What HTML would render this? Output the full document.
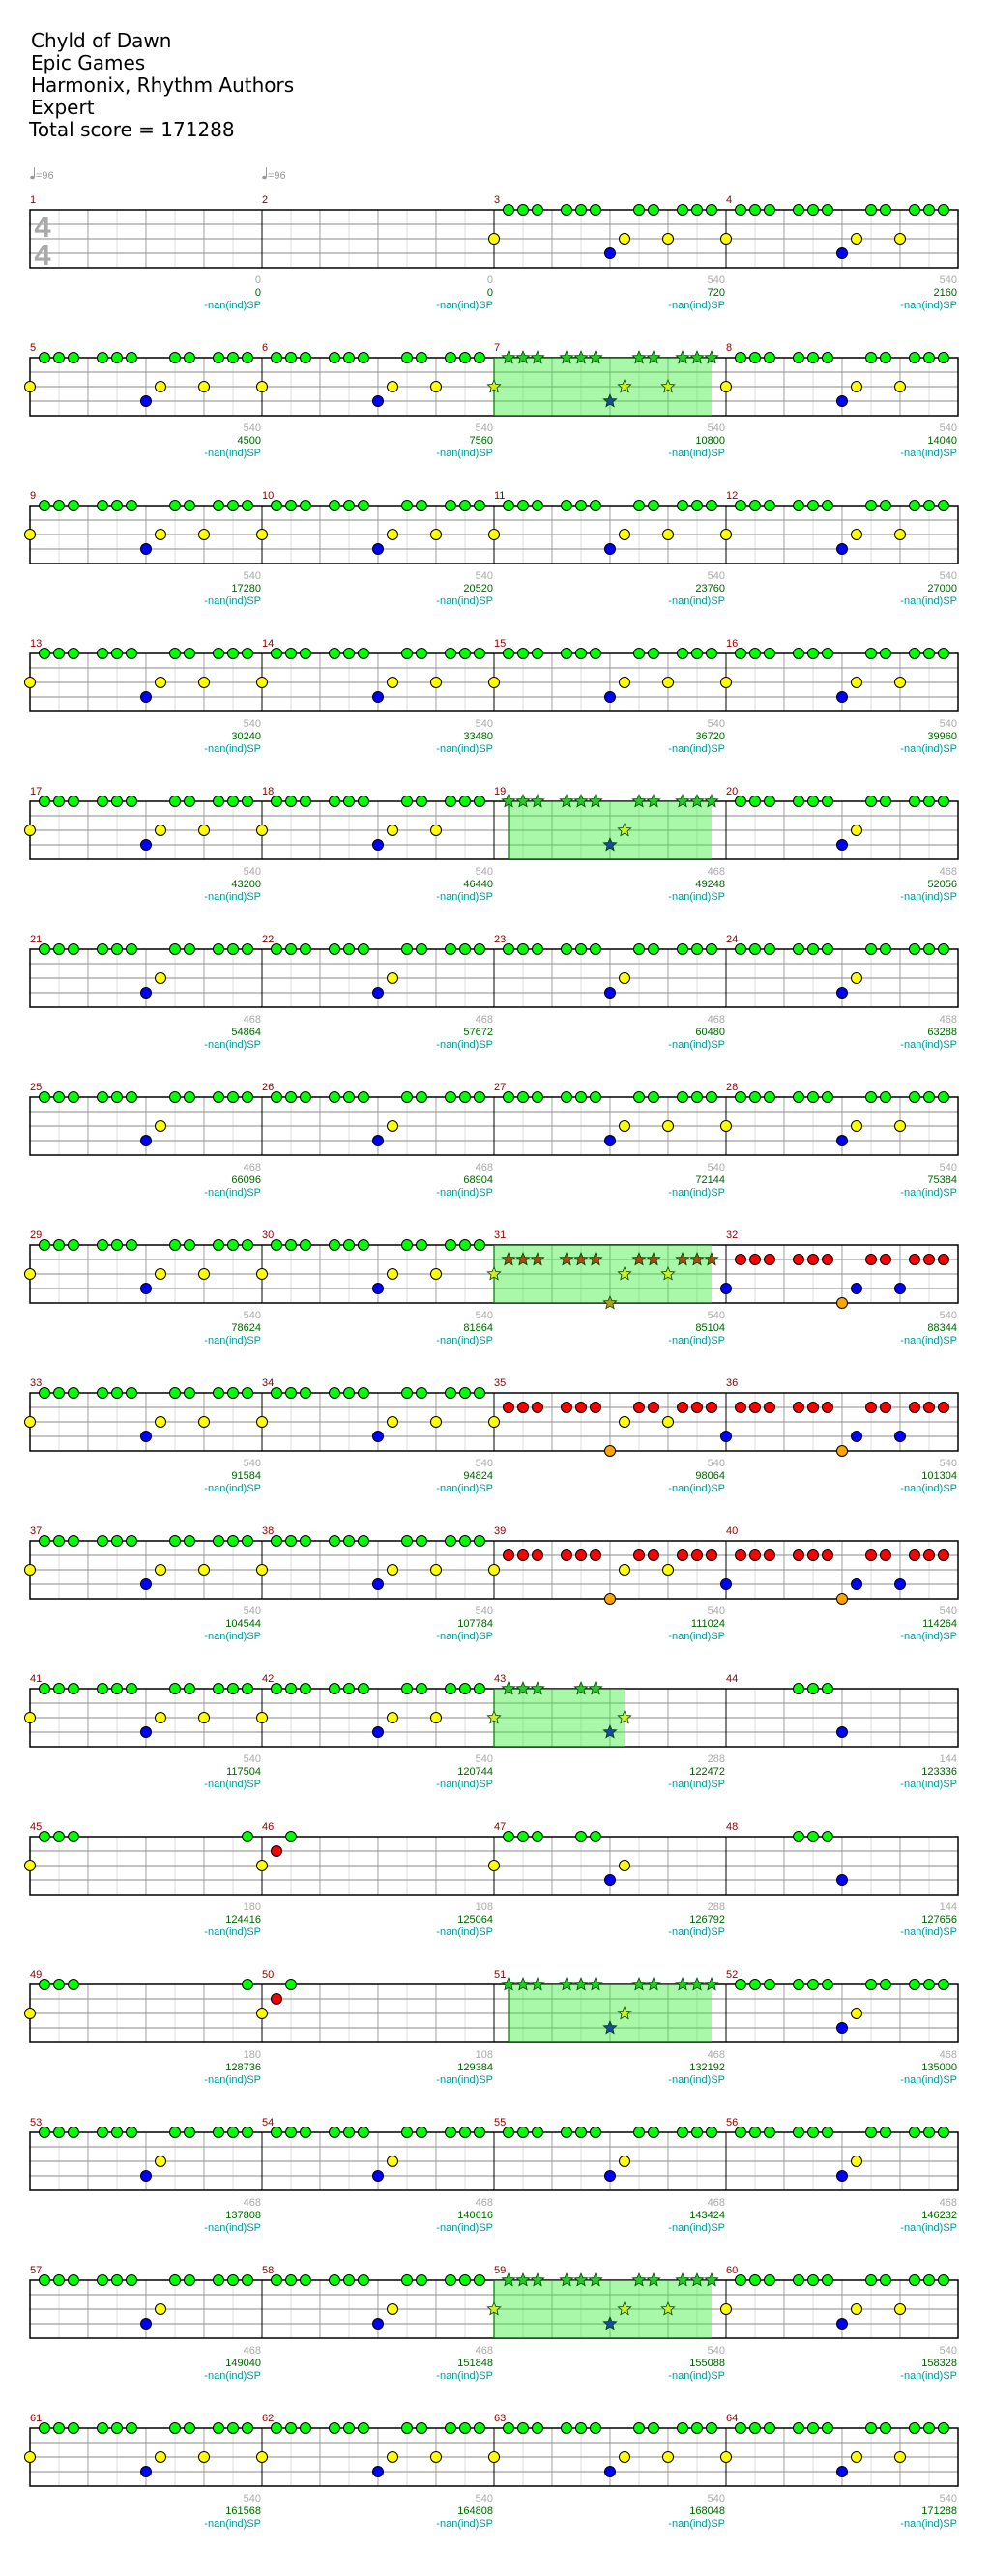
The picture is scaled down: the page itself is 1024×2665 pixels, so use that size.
<!DOCTYPE html>
<html><head><meta charset="utf-8">
<style>
html,body{margin:0;padding:0;background:#fff;}
svg{display:block;font-family:"Liberation Sans","DejaVu Sans",sans-serif;}
.title{font-family:"DejaVu Sans","Liberation Sans",sans-serif;font-size:20px;fill:#000;}
</style></head>
<body>
<svg id="chart" width="1024" height="2665" viewBox="0 0 1024 2665" xmlns="http://www.w3.org/2000/svg">
<g>
<text class="title" x="32" y="49">Chyld of Dawn</text>
<text class="title" x="32" y="72">Epic Games</text>
<text class="title" x="32" y="95">Harmonix, Rhythm Authors</text>
<text class="title" x="32" y="118">Expert</text>
<text class="title" x="30" y="141">Total score = 171288</text>
</g>
<g>
<ellipse cx="33.5" cy="183.5" rx="2.3" ry="1.8" fill="#999"/>
<line x1="35.5" y1="183" x2="35.5" y2="173" stroke="#999" stroke-width="1"/>
<text x="37" y="185" font-size="11" fill="#999">=96</text>
</g>
<g>
<ellipse cx="273.5" cy="183.5" rx="2.3" ry="1.8" fill="#999"/>
<line x1="275.5" y1="183" x2="275.5" y2="173" stroke="#999" stroke-width="1"/>
<text x="277" y="185" font-size="11" fill="#999">=96</text>
</g>
</svg>
<script>
// ---- data ----
const patternNames = ["E","E","A","A","A","A","A","A","A","A","A","A","A","A","A","A","A","A","B","B","B","B","B","B","B","B","C","A","A","A","R2","R1","A","A","R2","R1","A","A","R2","R1","A","A","H","I","J","K","L","I","J","K","B","B","B","B","B","B","B","B","A","A","A","A","A","A"];
const greenRun = [1,2,3,5,6,7,10,11,13,14,15];
const patterns = {
  E: {},
  A: {G: greenRun, Y: [0,9,12], B: [8]},
  B: {G: greenRun, Y: [9], B: [8]},
  C: {G: greenRun, Y: [9,12], B: [8]},
  R1: {R: greenRun, B: [0,9,12], O: [8]},
  R2: {R: greenRun, Y: [0,9,12], O: [8]},
  H: {G: [1,2,3,6,7], Y: [0,9], B: [8]},
  I: {G: [5,6,7], B: [8]},
  J: {Y: [0], G: [1,2,3,15]},
  K: {Y: [0], R: [1], G: [2]},
  L: {Y: [0], G: [1,2,3,6,7], B: [8], Y2: [9]}
};
const spMeasures = [7,19,31,43,51,59];
const spStart = [0,1,0,0,1,0];
const spEnd = [15,15,15,9,15,15];
const grayLabels = [0,0,540,540,540,540,540,540,540,540,540,540,540,540,540,540,540,540,468,468,468,468,468,468,468,468,540,540,540,540,540,540,540,540,540,540,540,540,540,540,540,540,288,144,180,108,288,144,180,108,468,468,468,468,468,468,468,468,540,540,540,540,540,540];
const scoreLabels = [0,0,720,2160,4500,7560,10800,14040,17280,20520,23760,27000,30240,33480,36720,39960,43200,46440,49248,52056,54864,57672,60480,63288,66096,68904,72144,75384,78624,81864,85104,88344,91584,94824,98064,101304,104544,107784,111024,114264,117504,120744,122472,123336,124416,125064,126792,127656,128736,129384,132192,135000,137808,140616,143424,146232,149040,151848,155088,158328,161568,164808,168048,171288];

// ---- layout ----
const svg = document.getElementById('chart');
const NS = 'http://www.w3.org/2000/svg';
const X0 = 31, MW = 240, TOP0 = 217, ROWH = 153, LANE = 15, STEP = 15;
const laneOf = {G:0, R:1, Y:2, Y2:2, B:3, O:4};
const fillOf = {G:'#00ff00', R:'#ff0000', Y:'#ffff00', Y2:'#ffff00', B:'#0000ff', O:'#ffa500'};
const starFill = {G:'#22cc22', R:'#a84a10', Y:'#ccee22', Y2:'#ccee22', B:'#1848a0', O:'#b0a020'};
function mx(m){ return X0 + (m % 4) * MW; }
function rowTop(m){ return TOP0 + Math.floor(m / 4) * ROWH; }
function xPos(m, step){ return mx(m) + step * STEP; }
function yPos(m, lane){ return rowTop(m) + lane * LANE; }
function mk(tag, attrs, parent){
  const e = document.createElementNS(NS, tag);
  for (const k in attrs) e.setAttribute(k, attrs[k]);
  (parent || svg).appendChild(e);
  return e;
}
function starPts(cx, cy, r){
  const p = [];
  for (let i = 0; i < 10; i++){
    const rr = i % 2 ? r * 0.45 : r;
    const a = -Math.PI / 2 + i * Math.PI / 5;
    p.push((cx + rr * Math.cos(a)).toFixed(1) + ',' + (cy + rr * Math.sin(a)).toFixed(1));
  }
  return p.join(' ');
}

const nRows = Math.ceil(patternNames.length / 4);
for (let r = 0; r < nRows; r++){
  const top = TOP0 + r * ROWH;
  const g = mk('g', {});
  
  
  for (let i = 1; i < 32; i++){
    if (i % 8 === 0) continue;
    const x = X0 + i * 30;
    mk('line', {x1:x, y1:top, x2:x, y2:top+60, stroke: i % 2 ? '#dcdcdc' : '#a0a0a0', 'stroke-width':1}, g);
  }
  for (let l = 1; l < 4; l++) mk('line', {x1:X0, y1:top+l*LANE, x2:X0+4*MW, y2:top+l*LANE, stroke:'#a0a0a0', 'stroke-width':1.3}, g);
  for (let i = 1; i < 4; i++) mk('line', {x1:X0+i*MW, y1:top, x2:X0+i*MW, y2:top+60, stroke:'#000', 'stroke-width':1}, g);
  mk('rect', {x:X0, y:top, width:4*MW, height:60, fill:'none', stroke:'#000', 'stroke-width':1.5}, g);
}
const ts1 = mk('text', {x:44, y:245, 'font-size':31, 'font-weight':'bold', fill:'#aaa', 'text-anchor':'middle'});
ts1.textContent = '4';


const ts2 = mk('text', {x:44, y:274, 'font-size':31, 'font-weight':'bold', fill:'#aaa', 'text-anchor':'middle'});
ts2.textContent = '4';



spMeasures.forEach((mNum, i) => {
  const m = mNum - 1;
  const x1 = xPos(m, spStart[i]), x2 = xPos(m, spEnd[i]);
  const rc = mk('rect', {x:x1, y:rowTop(m), width:x2-x1, height:60, fill:'#33ee33', 'fill-opacity':0.42});
  
  
  mk('line', {x1:x1, y1:rowTop(m), x2:x1, y2:rowTop(m)+60, stroke:'#007700', 'stroke-width':1.2});
});

patternNames.forEach((pn, m) => {
  const top = rowTop(m), xs = mx(m), xe = xs + MW;
  const num = mk('text', {x:xs, y:top-7, 'font-size':11, fill:'#8b0000'});
  num.textContent = String(m + 1);
  
  
  const gl = mk('text', {x:xe-1, y:top+76, 'font-size':11, fill:'#aaa', 'text-anchor':'end'});
  gl.textContent = String(grayLabels[m]);
  
  
  const sl = mk('text', {x:xe-1, y:top+89, 'font-size':11, fill:'#006400', 'text-anchor':'end'});
  sl.textContent = String(scoreLabels[m]);
  
  
  const sp = mk('text', {x:xe-1, y:top+102, 'font-size':11, fill:'#009999', 'text-anchor':'end'});
  sp.textContent = '-nan(ind)SP';
  
  

  const isSP = spMeasures.indexOf(m + 1) >= 0;
  const pat = patterns[pn];
  for (const key in pat){
    pat[key].forEach(step => {
      const cx = xPos(m, step), cy = yPos(m, laneOf[key]);
      let el;
      if (isSP){
        el = mk('polygon', {points: starPts(cx, cy, 7), fill: starFill[key], stroke:'#004400', 'stroke-width':0.8});
        
      } else {
        el = mk('circle', {cx:cx, cy:cy, r:5.5, fill: fillOf[key], stroke:'#000', 'stroke-width':1});
        
      }
      
    });
  }
});
</script>
</body></html>
